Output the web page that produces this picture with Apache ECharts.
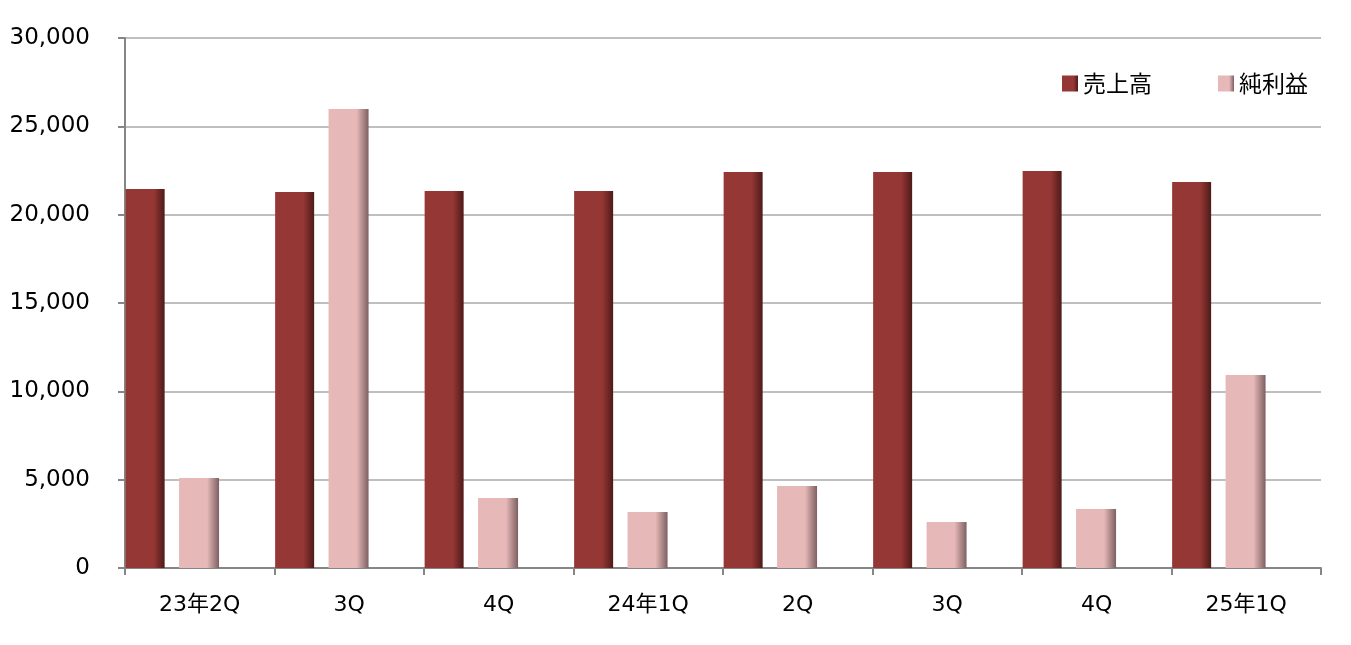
<!DOCTYPE html>
<html>
<head>
<meta charset="utf-8">
<script src="https://cdn.jsdelivr.net/npm/echarts@6/dist/echarts.min.js"></script>
<style>html,body{margin:0;padding:0;background:#fff}#c{width:1351px;height:645px}</style>
</head>
<body>
<div id="c"></div>
<script>
var categories = ['23年2Q', '3Q', '4Q', '24年1Q', '2Q', '3Q', '4Q', '25年1Q'];
var sales = [21450, 21280, 21340, 21340, 22410, 22410, 22470, 21850];
var netIncome = [5100, 25980, 3960, 3170, 4640, 2600, 3340, 10920];
var yTicks = { min: 0, max: 30000, interval: 5000 };

var chart = echarts.init(document.getElementById('c'));
var font = 'DejaVu Sans, "Noto Sans CJK JP", sans-serif';
var redGrad = new echarts.graphic.LinearGradient(0, 0, 1, 0, [
  { offset: 0, color: '#953735' },
  { offset: 0.72, color: '#953735' },
  { offset: 1, color: '#4e1a19' }
]);
var pinkGrad = new echarts.graphic.LinearGradient(0, 0, 1, 0, [
  { offset: 0, color: '#e6b8b7' },
  { offset: 0.7, color: '#e6b8b7' },
  { offset: 1, color: '#7d6062' }
]);
chart.setOption({
  animation: false,
  backgroundColor: '#ffffff',
  grid: { left: 125, right: 30, top: 38, bottom: 77 },
  legend: {
    data: ['売上高', '純利益'],
    top: 67, right: 38,
    icon: 'rect', itemWidth: 16, itemHeight: 16, itemGap: 66, itemTextGap: 7,
    textStyle: { fontSize: 23, color: '#000', fontFamily: '"Noto Sans CJK JP", sans-serif' }
  },
  xAxis: {
    type: 'category',
    data: categories,
    axisLine: { lineStyle: { color: '#868686', width: 2 } },
    axisTick: { show: true, length: 7, lineStyle: { color: '#868686', width: 2 } },
    axisLabel: { fontSize: 22, color: '#000', margin: 26, fontFamily: font }
  },
  yAxis: {
    type: 'value',
    min: yTicks.min, max: yTicks.max, interval: yTicks.interval,
    axisLine: { show: true, lineStyle: { color: '#868686', width: 2 } },
    axisTick: { show: true, length: 7, lineStyle: { color: '#868686', width: 2 } },
    splitLine: { lineStyle: { color: '#bfbfbf', width: 2 } },
    axisLabel: {
      fontSize: 23, color: '#000', margin: 35, fontFamily: font,
      formatter: function (v) { return v.toLocaleString('en-US'); }
    }
  },
  series: [
    { name: '売上高', type: 'bar', data: sales, barWidth: 39, barGap: '37%', barCategoryGap: 0, itemStyle: { color: redGrad } },
    { name: '純利益', type: 'bar', data: netIncome, barWidth: 40, itemStyle: { color: pinkGrad } },
    { name: 'spacer', type: 'bar', data: categories.map(function () { return null; }), barWidth: 40 }
  ]
});
</script>
</body>
</html>
